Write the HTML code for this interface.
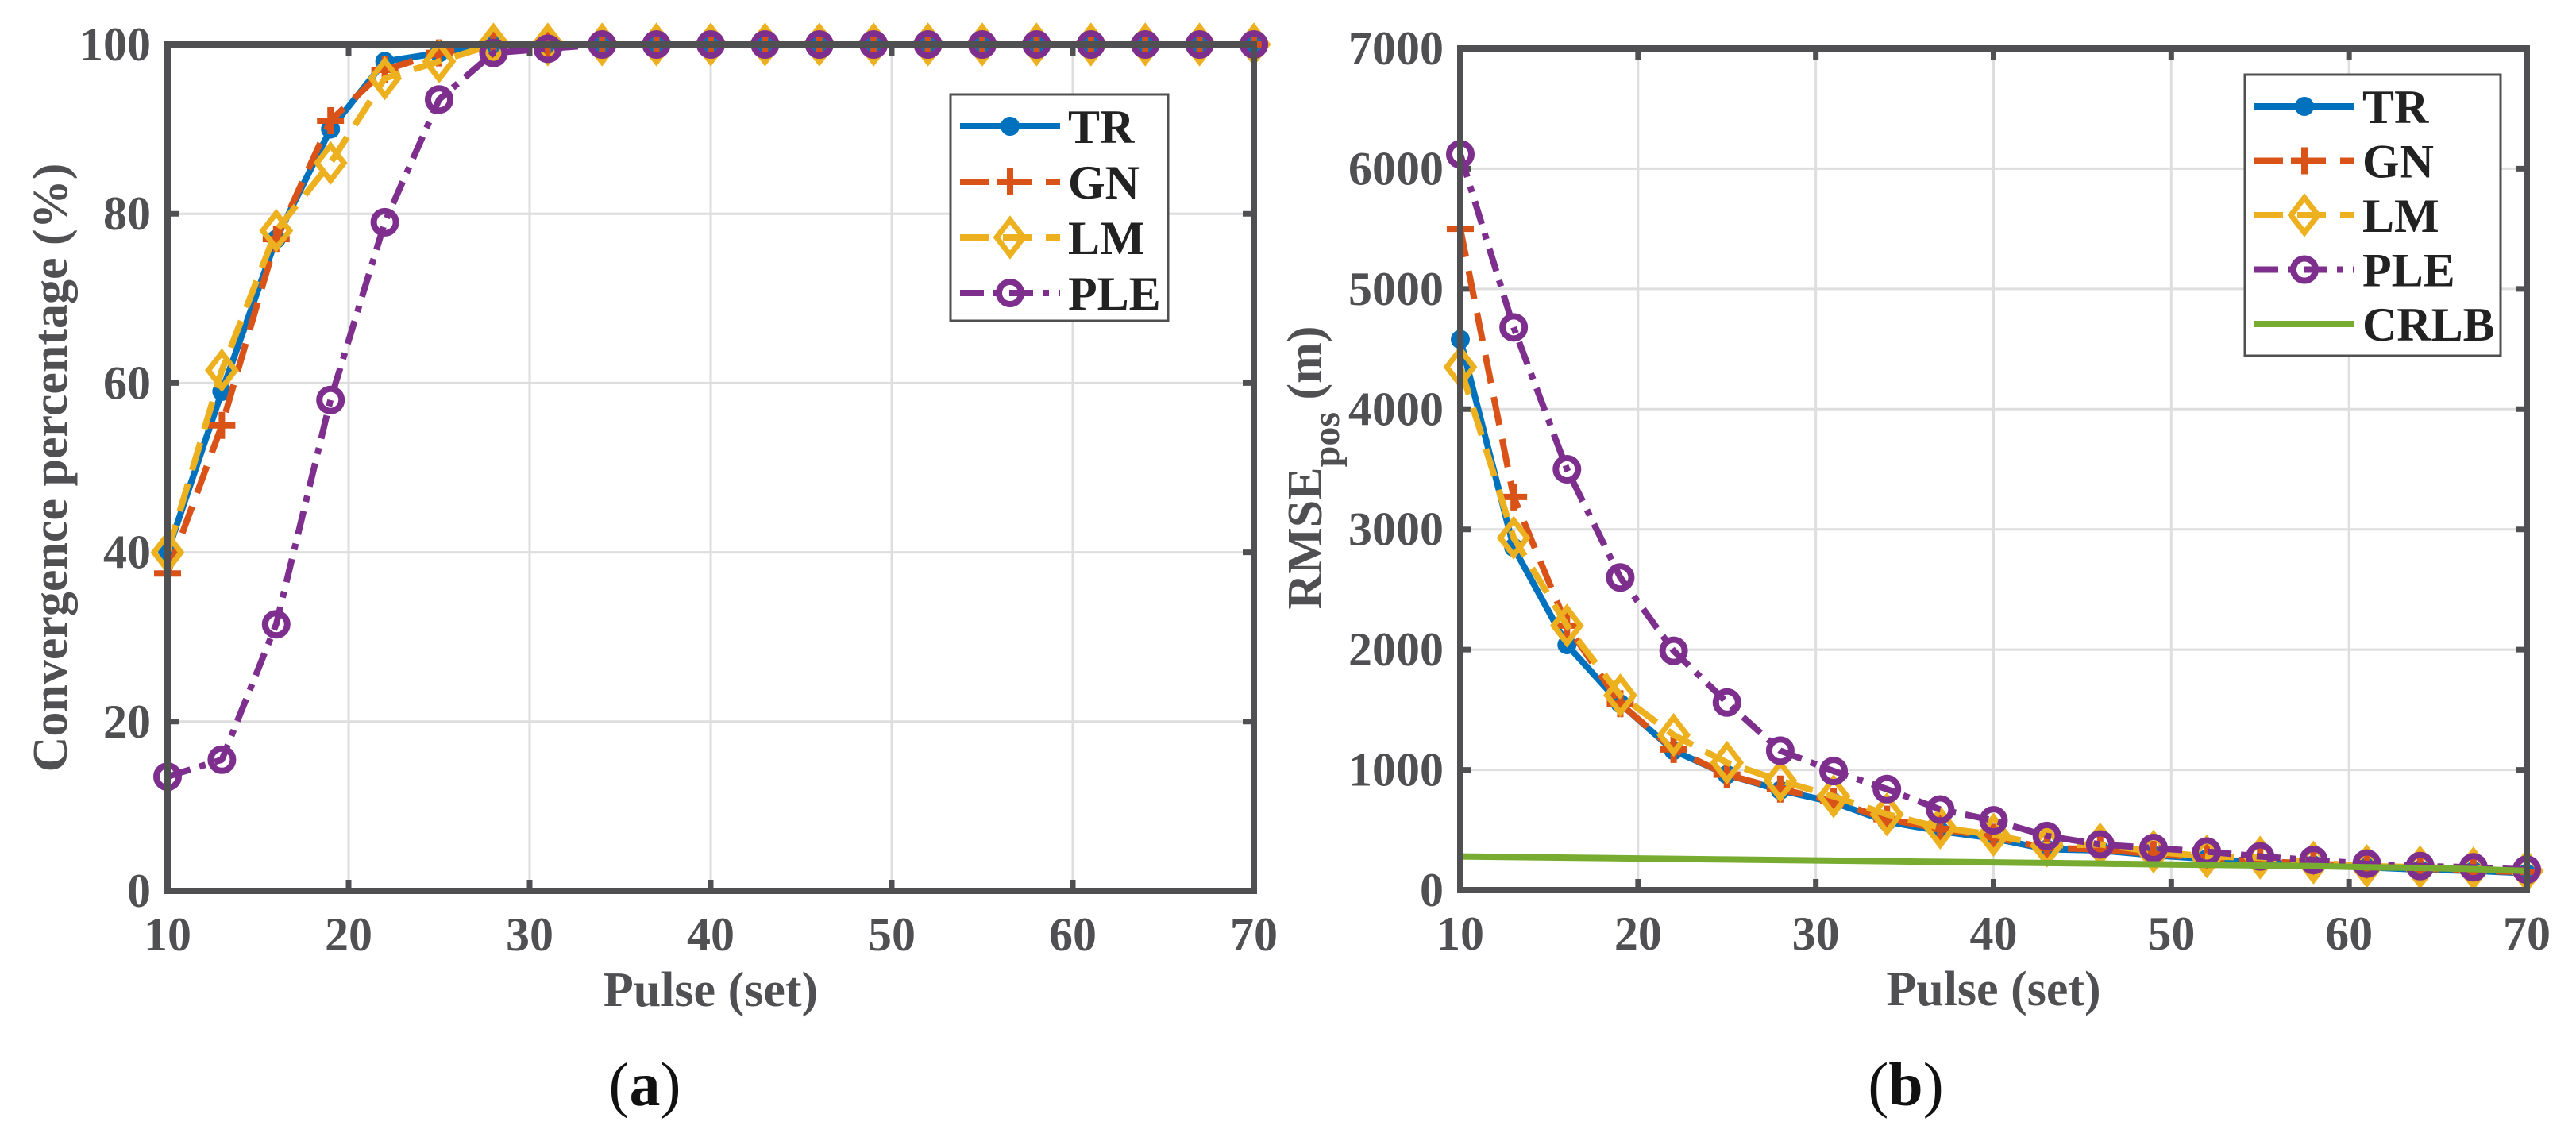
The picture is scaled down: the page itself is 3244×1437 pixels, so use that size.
<!DOCTYPE html>
<html><head><meta charset="utf-8"><style>
html,body{margin:0;padding:0;background:#fff;}
svg{display:block;}
text{font-family:"Liberation Serif",serif;}
</style></head><body>
<svg id="fig" width="3244" height="1437" viewBox="0 0 3244 1437" xmlns="http://www.w3.org/2000/svg">
<g id="pa"></g>
<g id="pb"></g>
<text x="812" y="1392" font-size="78" text-anchor="middle" fill="#111">(<tspan font-weight="bold">a</tspan>)</text>
<text x="2400" y="1392" font-size="78" text-anchor="middle" fill="#111">(<tspan font-weight="bold">b</tspan>)</text>
</svg>
<script>
const pulses = [10,13,16,19,22,25,28,31,34,37,40,43,46,49,52,55,58,61,64,67,70];
const convTR  = [40,59,77,90,98,99,100,100,100,100,100,100,100,100,100,100,100,100,100,100,100];
const convGN  = [37.5,55,77,91,97,99,100,100,100,100,100,100,100,100,100,100,100,100,100,100,100];
const convLM  = [40,61.5,78,86,96,98,100,100,100,100,100,100,100,100,100,100,100,100,100,100,100];
const convPLE = [13.5,15.5,31.5,58,79,93.5,99,99.5,100,100,100,100,100,100,100,100,100,100,100,100,100];
const rmseTR  = [4580,2850,2040,1550,1160,960,830,730,570,490,430,340,330,290,260,230,210,190,170,160,140];
const rmseGN  = [5500,3270,2200,1550,1170,960,840,740,590,510,440,350,340,300,270,240,220,200,180,160,150];
const rmseLM  = [4350,2930,2200,1620,1290,1060,910,780,630,520,460,370,380,320,280,270,230,200,190,180,160];
const rmsePLE = [6120,4680,3500,2600,1990,1560,1160,990,840,670,580,450,380,350,320,280,250,220,200,190,170];
const rmseCRLB= [280,275,270,265,260,255,250,245,240,235,230,225,220,215,210,205,200,190,185,175,160];
const xTicks = [10,20,30,40,50,60,70];
const yTicksA = [0,20,40,60,80,100];
const yTicksB = [0,1000,2000,3000,4000,5000,6000,7000];

const NS="http://www.w3.org/2000/svg";
const AX="#505053";
function mk(parent,tag,attrs){const e=document.createElementNS(NS,tag);for(const k in attrs)e.setAttribute(k,attrs[k]);parent.appendChild(e);return e;}

const seriesStyle={
 TR:{c:"#0072BD",dash:"",m:"dot"},
 GN:{c:"#D95319",dash:"36,18",m:"plus"},
 LM:{c:"#EDB120",dash:"36,18",m:"diamond"},
 PLE:{c:"#7E2F8E",dash:"30,12,8,12",m:"circle"},
 CRLB:{c:"#77AC30",dash:"",m:"none"}
};

function marker(g,type,x,y,c,name){
 let e;
 if(type==="dot"){e=mk(g,"circle",{cx:x,cy:y,r:12,fill:c});}
 else if(type==="plus"){e=mk(g,"path",{d:`M${x-17},${y}H${x+17}M${x},${y-17}V${y+17}`,stroke:c,"stroke-width":8,fill:"none"});}
 else if(type==="diamond"){e=mk(g,"path",{d:`M${x},${y-22}L${x+17},${y}L${x},${y+22}L${x-17},${y}Z`,stroke:c,"stroke-width":7,fill:"none"});}
 else if(type==="circle"){e=mk(g,"circle",{cx:x,cy:y,r:14,stroke:c,"stroke-width":8,fill:"none"});}
 if(e){
  
  
 }
}

function chart(g,cfg){
 const {L,R,T,B,ymax,yTicks,series,ytitle,legend}=cfg;
 const sx=v=>L+(v-10)/60*(R-L);
 const sy=v=>B-v/ymax*(B-T);
 xTicks.forEach(t=>{ if(t>10&&t<70){const l=mk(g,"line",{x1:sx(t),x2:sx(t),y1:T,y2:B,stroke:"#dedede","stroke-width":3});
   }});
 yTicks.forEach(t=>{ if(t>0&&t<ymax){const l=mk(g,"line",{x1:L,x2:R,y1:sy(t),y2:sy(t),stroke:"#dedede","stroke-width":3});
   }});
 xTicks.forEach(t=>{
  mk(g,"path",{d:`M${sx(t)},${B}v-14M${sx(t)},${T}v14`,stroke:AX,"stroke-width":7});
  const tx=mk(g,"text",{x:sx(t),y:B+75,"font-size":60,"font-weight":"bold","text-anchor":"middle",fill:AX});
  tx.textContent=t;
   
 });
 yTicks.forEach(t=>{
  mk(g,"path",{d:`M${L},${sy(t)}h14M${R},${sy(t)}h-14`,stroke:AX,"stroke-width":7});
  const tx=mk(g,"text",{x:L-21,y:sy(t)+20,"font-size":60,"font-weight":"bold","text-anchor":"end",fill:AX});
  tx.textContent=t;
   
 });
 series.forEach(([name,vals])=>{
  const st=seriesStyle[name];
  const sg=mk(g,"g",{});
  
  
  const d=vals.map((v,i)=>(i?"L":"M")+sx(pulses[i])+","+sy(v)).join("");
  const p=mk(sg,"path",{d:d,stroke:st.c,"stroke-width":8,fill:"none","stroke-dasharray":st.dash,"stroke-linejoin":"round"});
  
  
  if(st.m!=="none") vals.forEach((v,i)=>marker(sg,st.m,sx(pulses[i]),sy(v),st.c,'marker-'+name.toLowerCase()));
 });
 const box=mk(g,"rect",{x:L,y:T,width:R-L,height:B-T,fill:"none",stroke:AX,"stroke-width":8});
  
 const xt=mk(g,"text",{x:(L+R)/2,y:B+145,"font-size":62,"font-weight":"bold","text-anchor":"middle",fill:AX});
 xt.textContent="Pulse (set)";
  
 const yt=mk(g,"text",{x:0,y:0,"font-size":62,"font-weight":"bold","text-anchor":"middle",fill:AX,transform:`translate(${ytitle.x},${ytitle.y}) rotate(-90)`});
  
 ytitle.build(yt);
 const lg=mk(g,"g",{});
  
 mk(lg,"rect",{x:legend.x,y:legend.y,width:legend.w,height:legend.h,fill:"#fff",stroke:AX,"stroke-width":3});
 series.forEach(([name],i)=>{
  const st=seriesStyle[name];
  const ry=legend.y+40+i*legend.dy;
  const x0=legend.x+12, x1=x0+126, xm=(x0+x1)/2;
  const le=mk(lg,"g",{});
  
  
  mk(le,"line",{x1:x0,x2:x1,y1:ry,y2:ry,stroke:st.c,"stroke-width":8,"stroke-dasharray":st.dash});
  if(st.m!=="none") marker(le,st.m,xm,ry,st.c,'legend-marker-'+name.toLowerCase());
  const t=mk(le,"text",{x:x1+10,y:ry+21,"font-size":60,"font-weight":"bold",fill:"#222"});
  t.textContent=name;
 });
}

chart(document.getElementById("pa"),{L:211,R:1579,T:56,B:1122,ymax:100,yTicks:yTicksA,
 series:[["TR",convTR],["GN",convGN],["LM",convLM],["PLE",convPLE]],
 ytitle:{x:84,y:589,build:t=>{t.textContent="Convergence percentage (%)";}},
 legend:{x:1197,y:119,w:274,h:285,dy:70}});

chart(document.getElementById("pb"),{L:1839,R:3182,T:61,B:1121,ymax:7000,yTicks:yTicksB,
 series:[["TR",rmseTR],["GN",rmseGN],["LM",rmseLM],["PLE",rmsePLE],["CRLB",rmseCRLB]],
 ytitle:{x:1664,y:589,build:t=>{
   const a=document.createElementNS(NS,"tspan");a.textContent="RMSE";t.appendChild(a);
   const b=document.createElementNS(NS,"tspan");b.setAttribute("dy","22");b.setAttribute("font-size","48");b.textContent="pos";t.appendChild(b);
   const c=document.createElementNS(NS,"tspan");c.setAttribute("dy","-22");c.textContent=" (m)";t.appendChild(c);
 }},
 legend:{x:2827,y:94,w:322,h:354,dy:68.5}});
</script>
</body></html>
